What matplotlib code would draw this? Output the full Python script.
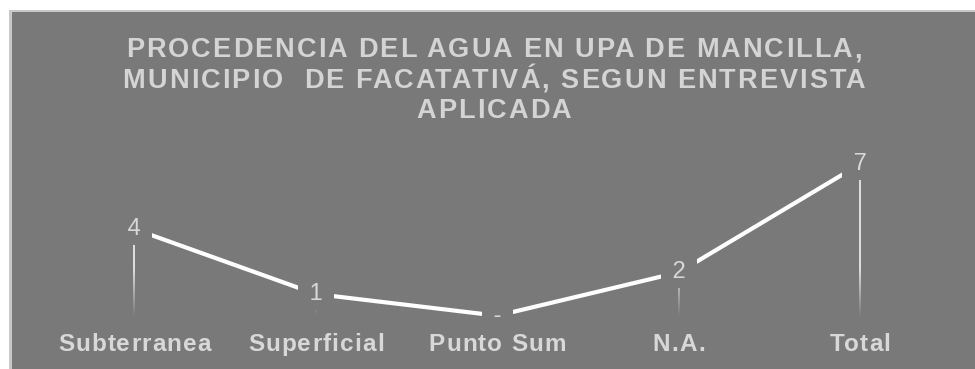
import matplotlib
matplotlib.use("Agg")
import numpy as np
import matplotlib.pyplot as plt
from matplotlib import font_manager as fm
from matplotlib.patches import Rectangle
from matplotlib.collections import LineCollection

categories = ["Subterranea", "Superficial", "Punto Sum", "N.A.", "Total"]
values = [4, 1, 0, 2, 7]
value_labels = ["4", "1", "-", "2", "7"]
title_lines = ["PROCEDENCIA DEL AGUA EN UPA DE MANCILLA,",
               "MUNICIPIO  DE FACATATIVÁ, SEGUN ENTREVISTA",
               "APLICADA"]

GRAY = "#797979"
TEXT = "#d8d8d8"
W, H = 975, 369

fig = plt.figure(figsize=(W / 100, H / 100), dpi=100, facecolor="white")
# light frame edge then the gray plot area
fig.add_artist(Rectangle((9 / W, 0), 1, (H - 10) / H, transform=fig.transFigure,
                         fc="#c9c9c9", ec="none", zorder=0))
fig.add_artist(Rectangle((12 / W, 0), 1, (H - 12) / H, transform=fig.transFigure,
                         fc=GRAY, ec="none", zorder=0))

ax = fig.add_axes([0, 0, 1, 1])
ax.set_xlim(-0.741, 4.633)
ax.set_ylim(-2.46, 14.57)
ax.axis("off")

x = np.arange(len(values))
ax.plot(x, values, color="white", lw=3, solid_capstyle="butt", zorder=2)

# thin drop lines fading out towards the baseline
for xi, v in zip(x, values):
    if v <= 0:
        continue
    ys = np.linspace(0, v, 80)
    segs = [[(xi, a), (xi, b)] for a, b in zip(ys[:-1], ys[1:])]
    alpha = np.clip(ys[1:] / 2.2, 0, 1) * 0.9
    ax.add_collection(LineCollection(segs, colors=[(1, 1, 1, a) for a in alpha],
                                     linewidths=1.2, zorder=1))

for xi, v, lab in zip(x, values, value_labels):
    ax.text(xi, v, " %s " % lab, ha="center", va="center", fontsize=17,
            family="Liberation Sans", color=TEXT, zorder=3,
            bbox=dict(boxstyle="square,pad=0.2", fc=GRAY, ec="none"))

renderer = fig.canvas.get_renderer()


def ink_width(s, prop):
    return renderer.get_text_width_height_descent(s, prop, ismath=False)[0]


def tracked(xc, y, s, prop, track, color):
    # letter-spaced text, centred on xc, baseline at y (display pixels)
    total = ink_width(s, prop) + track * (len(s) - 1)
    x0 = xc - total / 2
    for i, ch in enumerate(s):
        if ch == " ":
            continue
        xr = x0 + ink_width(s[:i + 1], prop) + track * i
        fig.text(xr / W, y / H, ch, fontproperties=prop, color=color,
                 ha="right", va="baseline")


names = {f.name for f in fm.fontManager.ttflist}
title_family = next((n for n in ["Liberation Sans Narrow", "Arial Narrow"] if n in names),
                    "Liberation Sans")
title_prop = fm.FontProperties(family=title_family, weight="bold", size=19.5)
cat_prop = fm.FontProperties(family="Liberation Sans", weight="bold", size=17.5)

t_track = (736 - ink_width(title_lines[0], title_prop)) / (len(title_lines[0]) - 1)
for line, base in zip(title_lines, [312, 281.5, 251]):
    tracked(494, base, line, title_prop, t_track, "#d4d4d4")

c_track = (153 - ink_width(categories[0], cat_prop)) / (len(categories[0]) - 1)
for xi, cat in zip(x, categories):
    px = ax.transData.transform((xi, 0))[0]
    tracked(px, 18, cat, cat_prop, c_track, TEXT)

fig.savefig("out.png", dpi=100, facecolor="white")
